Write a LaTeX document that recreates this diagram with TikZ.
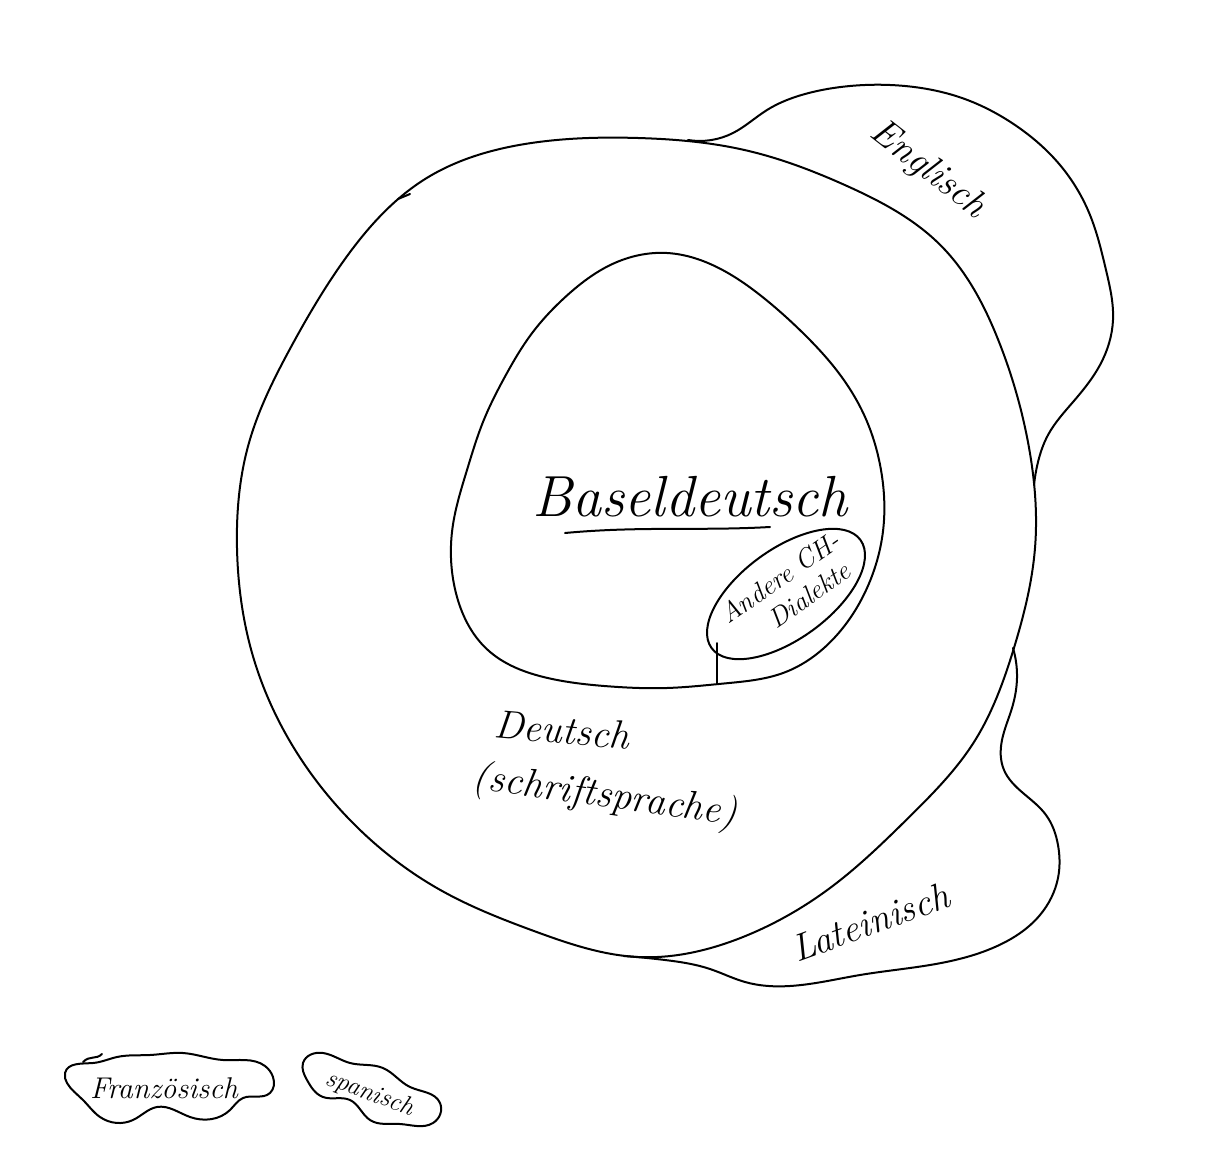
\documentclass[tikz,border=0pt]{standalone}
\usepackage{fontspec}
\usetikzlibrary{hobby}
\begin{document}
\begin{tikzpicture}[x=1pt,y=-1pt,
  ink/.style={line width=2pt, line join=round, line cap=round},
  lbl/.style={inner sep=0pt}]
\useasboundingbox[fill=white] (0,0) rectangle (1219,1156);
% junction points on the outer circle
\coordinate (jtop) at (688,140);
\coordinate (jeng) at (1034,485);
\coordinate (jlat) at (1013,648);
\coordinate (jbot) at (624,956);
% outer circle (Deutsch)
\begin{scope}[shift={(638,548)}]
\draw[ink, use Hobby shortcut, closed=true]
 (0:397) .. (15:389) .. (30:388) .. (45:382) .. (60:390) .. (75:403) ..
 (90:409) .. (105:397) .. (120:395) .. (135:396) .. (150:398) .. (165:400) ..
 (180:401) .. (195:403) .. (210:401) .. (225:412) .. (240:426) .. (255:419) ..
 (270:410) .. (285:412) .. (300:418) .. (315:428) .. (330:416) .. (345:404);
\end{scope}
\draw[ink] (398,199) -- (410,194);
% English blob
\draw[ink, use Hobby shortcut] (jtop) .. (733,133) .. (767,110) .. (805,94) ..
 (850,86) .. (905,86) .. (962,98) .. (1015,125) .. (1060,165) .. (1090,215) ..
 (1106,270) .. (1113,320) .. (1100,365) .. (1073,402) .. (1048,435) ..
 (1038,462) .. (jeng);
% Latin blob
\draw[ink, use Hobby shortcut] (jlat) .. (1017,678) .. (1012,708) ..
 (1002,740) .. (1004,770) .. (1023,793) .. (1046,815) .. (1058,845) ..
 (1058,878) .. (1040,915) .. (995,947) .. (930,965) .. (860,975) ..
 (790,986) .. (745,982) .. (710,969) .. (665,960) .. (jbot);
% inner egg (Baseldeutsch)
\begin{scope}[shift={(667,470)}]
\draw[ink, use Hobby shortcut, closed=true]
 (0:214) .. (15:224) .. (30:232) .. (45:237) .. (60:234) .. (75:221) ..
 (90:218) .. (105:224) .. (120:240) .. (135:254) .. (150:244) .. (165:222) ..
 (180:200) .. (195:190) .. (210:187) .. (225:192) .. (240:201) .. (255:213) ..
 (270:217) .. (285:208) .. (300:197) .. (315:193) .. (330:197) .. (345:205);
\end{scope}
% Andere CH-Dialekte ellipse
\draw[ink, rotate around={36:(786,594)}] (786,594) ellipse [x radius=92, y radius=45];
\coordinate (vtop) at (717,643);
\coordinate (vbot) at (717,683);
\draw[ink] (vtop) -- (vbot);
% Französisch blob
\draw[ink, use Hobby shortcut, closed=true] (65,1073) .. (93,1063) .. (117,1057) ..
 (150,1055) .. (183,1053) .. (223,1060) .. (265,1066) .. (273,1077) ..
 (270,1093) .. (243,1098) .. (230,1110) .. (190,1117) .. (157,1107) ..
 (133,1120) .. (100,1117) .. (83,1100) .. (67,1083);
\draw[ink] (83,1062) .. controls (90,1055) and (96,1060) .. (102,1054);
% Spanisch blob
\draw[ink, use Hobby shortcut, closed=true] (303,1063) .. (323,1053) ..
 (350,1063) .. (383,1068) .. (410,1087) .. (440,1103) .. (433,1123) ..
 (400,1124) .. (370,1120) .. (350,1100) .. (323,1097) .. (307,1080);
% labels
\node[lbl, font=\itshape\fontsize{58}{64}\selectfont] (basel) at (690,497) {Baseldeutsch};
\coordinate (ul1) at (565,533);
\coordinate (ul2) at (770,527);
\draw[ink] (ul1) .. controls (640,526) and (700,531) .. (ul2);
\node[lbl, rotate=35, align=center, font=\itshape\fontsize{27}{31}\selectfont] (andere) at (789,590) {Andere CH-\\\hspace*{1em}Dialekte};
\node[lbl, rotate=-5, font=\itshape\fontsize{40}{46}\selectfont\addfontfeature{LetterSpace=6}] (deutsch) at (562,730) {Deutsch};
\node[lbl, rotate=-8, font=\itshape\fontsize{40}{46}\selectfont\addfontfeature{LetterSpace=11}] (schrift) at (605,797) {(schriftsprache)};
\node[lbl, rotate=-38, font=\itshape\fontsize{38}{44}\selectfont\addfontfeature{LetterSpace=6}] (englisch) at (928,170) {Englisch};
\node[lbl, rotate=20, font=\itshape\fontsize{38}{44}\selectfont\addfontfeature{LetterSpace=18}] (latein) at (870,922) {Lateinisch};
\node[lbl, font=\itshape\fontsize{30}{34}\selectfont] (franz) at (164,1088) {Französisch};
\node[lbl, rotate=-20, font=\itshape\fontsize{26}{30}\selectfont] (span) at (370,1094) {spanisch};
\end{tikzpicture}
\end{document}
